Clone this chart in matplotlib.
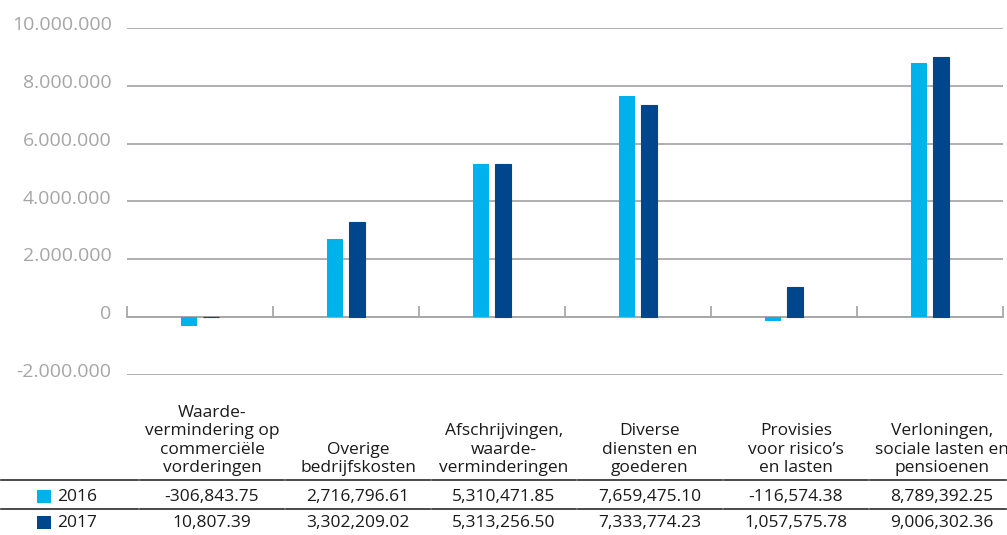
import matplotlib.pyplot as plt
import matplotlib.transforms as mtransforms
from matplotlib.patches import Rectangle
from matplotlib.lines import Line2D
import numpy as np

plt.rcParams['font.family'] = ['Open Sans', 'DejaVu Sans']

categories = [
    "Waarde-\nvermindering op\ncommerciële\nvorderingen",
    "Overige\nbedrijfskosten",
    "Afschrijvingen,\nwaarde-\nverminderingen",
    "Diverse\ndiensten en\ngoederen",
    "Provisies\nvoor risico’s\nen lasten",
    "Verloningen,\nsociale lasten en\npensioenen",
]
years = ["2016", "2017"]
values_2016 = [-306843.75, 2716796.61, 5310471.85, 7659475.10, -116574.38, 8789392.25]
values_2017 = [10807.39, 3302209.02, 5313256.50, 7333774.23, 1057575.78, 9006302.36]
y_ticks = [-2000000, 0, 2000000, 4000000, 6000000, 8000000, 10000000]

colors = ["#00b2ec", "#00468c"]
grid_gray = "#a9a9a9"

W, H = 1007, 535
fig = plt.figure(figsize=(W / 100, H / 100), dpi=100)

# axes in pixel terms: x 127..1003, y 28..375
ax = fig.add_axes([127 / W, (H - 375) / H, 876 / W, (375 - 28) / H])

x = np.arange(len(categories))
bar_w = 0.11
ax.bar(x - 0.075, values_2016, bar_w, color=colors[0], zorder=3)
ax.bar(x + 0.075, values_2017, bar_w, color=colors[1], zorder=3,
       edgecolor=colors[1], linewidth=0.8)

ax.set_xlim(-0.5, len(categories) - 0.5)
ax.set_ylim(-2000000, 10000000)

for s in ["top", "right", "left"]:
    ax.spines[s].set_visible(False)
ax.spines["bottom"].set_position(("data", 0))
ax.spines["bottom"].set_color(grid_gray)
ax.spines["bottom"].set_linewidth(1.3)
ax.spines["bottom"].set_zorder(2)

ax.set_xticks(np.arange(len(categories) + 1) - 0.5)
ax.set_xticklabels([])
ax.tick_params(axis="x", direction="in", length=8, color=grid_gray, width=1.3)

ax.set_yticks(y_ticks)
ax.set_yticklabels([f"{v:,.0f}".replace(",", ".") for v in y_ticks])
ax.tick_params(axis="y", length=0, pad=11, labelsize=14, labelcolor="#a6a6a6")
ax.yaxis.grid(True, color=grid_gray, linewidth=1.3, zorder=1)
ax.set_axisbelow(True)

offset = mtransforms.ScaledTranslation(0, 5 / 100, fig.dpi_scale_trans)
for lbl in ax.get_yticklabels():
    lbl.set_transform(lbl.get_transform() + offset)

# table below the chart (pixel coordinates from the top-left)
def fx(px):
    return px / W

def fy(py):
    return (H - py) / H

col_centers = [212 + 146 * i for i in range(len(categories))]
txt_color = "#1a1a1a"
fs = 12.5

for cx, cat in zip(col_centers, categories):
    fig.text(fx(cx), fy(476), cat, ha="center", va="bottom", fontsize=fs,
             color=txt_color, linespacing=1.2)

boundaries = [0, 139] + [139 + 146 * (i + 1) for i in range(len(categories))]
for ly in [480, 509]:
    for a, b in zip(boundaries[:-1], boundaries[1:]):
        fig.add_artist(Line2D([fx(a + 1), fx(min(b, W) - 1)], [fy(ly), fy(ly)],
                              color="#2b2b2b", linewidth=1.2))

row_y = [497, 523]
for yr, vals, col, ry in zip(years, [values_2016, values_2017], colors, row_y):
    fig.add_artist(Rectangle((fx(37), fy(ry + 6)), 14 / W, 13 / H,
                             facecolor=col, edgecolor="none"))
    fig.text(fx(57), fy(ry), yr, ha="left", va="center", fontsize=fs, color=txt_color)
    for cx, v in zip(col_centers, vals):
        fig.text(fx(cx), fy(ry), f"{v:,.2f}", ha="center", va="center",
                 fontsize=fs, color=txt_color)

fig.savefig("out.png", dpi=100)
